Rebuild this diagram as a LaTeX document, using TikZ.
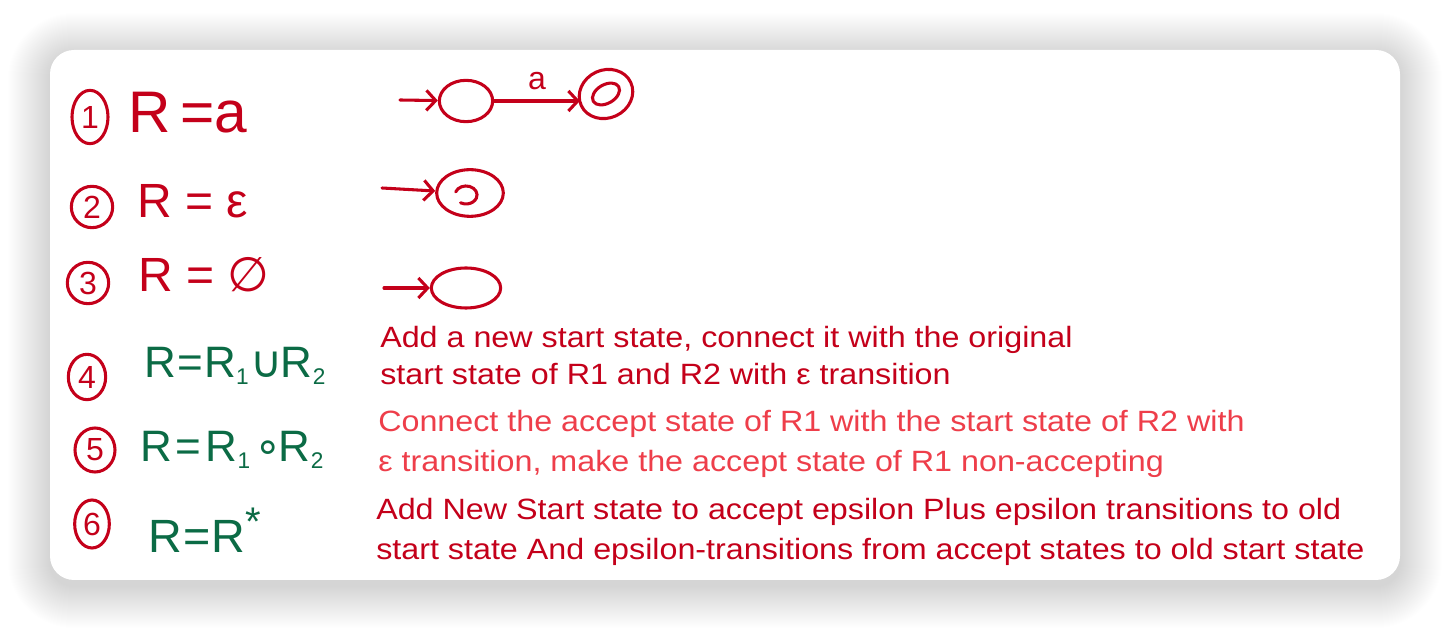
\documentclass[tikz,border=0pt]{standalone}
\usepackage{fontspec}
\setmainfont{Liberation Sans}
\newfontfamily\symf{DejaVu Sans}
\newfontfamily\descf{Liberation Sans}[FakeStretch=1.1]
\usetikzlibrary{shapes.geometric,arrows.meta}
\definecolor{dred}{HTML}{C4001A}
\definecolor{lred}{HTML}{EE3E4A}
\definecolor{dgreen}{HTML}{0B6B45}
\newcommand{\lowsub}[1]{\raisebox{-5pt}{\fontsize{17}{19}\selectfont #1}}
\begin{document}
\begin{tikzpicture}[x=0.75pt,y=-0.75pt,
  pen/.style={draw=dred,line width=2.3pt,line cap=round},
  numc/.style={ellipse,draw=dred,line width=2.3pt,text=dred,inner sep=0pt,font=\fontsize{24}{26}\selectfont},
  statenode/.style={ellipse,draw=dred,line width=2.3pt,inner sep=0pt},
  arr/.style={pen,-{Straight Barb[length=7pt,width=15pt,line width=2.3pt]}},
  formred/.style={anchor=base west,text=dred,inner sep=0pt},
  formgreen/.style={anchor=base west,text=dgreen,inner sep=0pt,font=\fontsize{33}{36}\selectfont},
  desc/.style={anchor=base west,inner sep=0pt,font=\descf\fontsize{22}{26}\selectfont}]
\useasboundingbox (0,0) rectangle (1450,630);
\fill[white] (0,0) rectangle (1450,630);
% soft shadow
\foreach \i in {1,...,42}{
  \pgfmathsetmacro\rr{18+0.75*\i}
  \fill[black,opacity=0.0042,rounded corners=\rr pt] (50-\i,55-\i) rectangle (1400+\i,586+\i);
}
\fill[white,rounded corners=18pt] (50,50) rectangle (1400,580);

% circled numbers
\node[numc,minimum width=27pt,minimum height=40pt] (n1) at (90,117) {1};
\node[numc,minimum width=31pt,minimum height=31pt] (n2) at (92,207) {2};
\node[numc,minimum width=31pt,minimum height=31pt] (n3) at (88,283) {3};
\node[numc,minimum width=28pt,minimum height=34pt] (n4) at (87,377) {4};
\node[numc,minimum width=30pt,minimum height=33pt] (n5) at (95,450) {5};
\node[numc,minimum width=26pt,minimum height=36pt] (n6) at (92,524) {6};

% formulas
\node[formred,font=\fontsize{44}{48}\selectfont] (f1) at (128,133) {R\,=a};
\node[formred,font=\fontsize{36}{40}\selectfont] (f2) at (137,218) {R = ε};
\node[formred,font=\fontsize{36}{40}\selectfont] (f3) at (138,292) {R = {\symf ∅}};
\node[formgreen] (f4) at (144,378) {R\kern1pt=\kern1ptR\lowsub{1}\kern1pt{\symf ∪}\kern-1ptR\lowsub{2}};
\node[formgreen] (f5) at (140,462) {R\kern3pt=\kern3ptR\lowsub{1}\kern3pt{\symf ∘}\kern-2ptR\lowsub{2}};
\node[formgreen,font=\fontsize{35}{38}\selectfont] (f6) at (148,553) {R\kern1pt=\kern1ptR\raisebox{13pt}{\fontsize{30}{30}\selectfont *}};

% automaton 1
\coordinate (i1) at (400,100);
\node[statenode,minimum width=40pt,minimum height=31pt] (s1) at (466,101) {};
\node[statenode,minimum width=41pt,minimum height=36pt,rotate=25] (a1) at (606,94) {};
\node[statenode,minimum width=22pt,minimum height=14pt,rotate=30] (a1i) at (606,94) {};
\draw[arr] (i1) -- (s1);
\draw[arr] (s1.east) -- node[above=4pt,text=dred,font=\fontsize{24}{26}\selectfont] (la) {a} (a1.west |- s1.east);

% automaton 2
\coordinate (i2) at (382,188);
\node[statenode,minimum width=50pt,minimum height=35pt] (s2) at (470,193) {};
\draw[pen] (455.7,191.9) arc[start angle=200,end angle=480,x radius=11,y radius=9];
\draw[arr] (i2) -- (s2);

% automaton 3
\coordinate (i3) at (384,288);
\node[statenode,minimum width=52pt,minimum height=30pt] (s3) at (466,288) {};
\draw[arr] (i3) -- (s3);

% descriptions
\node[desc,text=dred] (d4a) at (380,348) {Add a new start state, connect it with the original};
\node[desc,text=dred] (d4b) at (380,385) {start state of R1 and R2 with ε transition};
\node[desc,text=lred] (d5a) at (378,432) {Connect the accept state of R1 with the start state of R2 with};
\node[desc,text=lred] (d5b) at (378,472) {ε transition, make the accept state of R1 non-accepting};
\node[desc,text=dred] (d6a) at (376,520) {Add New Start state to accept epsilon Plus epsilon transitions to old};
\node[desc,text=dred] (d6b) at (376,560) {start state And epsilon-transitions from accept states to old start state};
\end{tikzpicture}
\end{document}
